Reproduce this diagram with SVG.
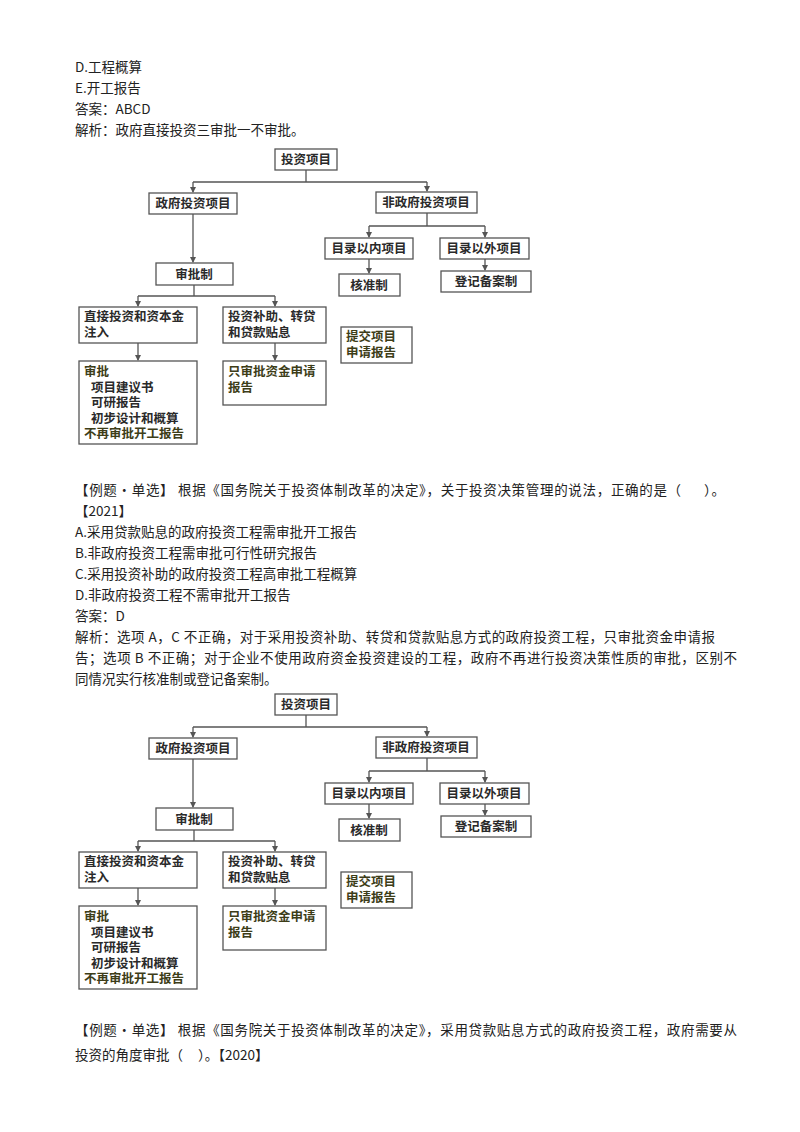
<svg xmlns="http://www.w3.org/2000/svg" width="800" height="1132" viewBox="0 0 800 1132">
<style>
.t{font-family:"Noto Sans CJK SC","Noto Sans",sans-serif;font-size:13.5px;fill:#222}
.b{fill:#fff;stroke:#555;stroke-width:1.3}
.n{font-family:"Noto Sans CJK SC",sans-serif;font-size:12.5px;font-weight:bold;fill:#2a2a2a}
.o{font-family:"Noto Sans CJK SC",sans-serif;font-size:12.5px;font-weight:bold;fill:#3d3d18}
.c{fill:none;stroke:#555;stroke-width:1.3}
</style>
<defs><marker id="a" markerWidth="6" markerHeight="6" refX="5" refY="3" orient="auto" markerUnits="userSpaceOnUse"><path d="M0,0L6,3L0,6z" fill="#555"/></marker></defs>
<rect width="800" height="1132" fill="#fff"/>
<g id="text1">
<text class="t" x="75" y="72">D.工程概算</text>
<text class="t" x="75" y="93">E.开工报告</text>
<text class="t" x="75" y="114">答案：ABCD</text>
<text class="t" x="75" y="135">解析：政府直接投资三审批一不审批。</text>
</g>
<g id="text2">
<text class="t" x="75" y="495" textLength="650">【例题·单选】 根据《国务院关于投资体制改革的决定》，关于投资决策管理的说法，正确的是（&#160;&#160;&#160;&#160;&#160;&#160;）。</text>
<text class="t" x="75" y="516">【2021】</text>
<text class="t" x="75" y="537">A.采用贷款贴息的政府投资工程需审批开工报告</text>
<text class="t" x="75" y="558">B.非政府投资工程需审批可行性研究报告</text>
<text class="t" x="75" y="579">C.采用投资补助的政府投资工程高审批工程概算</text>
<text class="t" x="75" y="600">D.非政府投资工程不需审批开工报告</text>
<text class="t" x="75" y="621">答案：D</text>
<text class="t" x="75" y="642" textLength="640">解析：选项 A，C 不正确，对于采用投资补助、转贷和贷款贴息方式的政府投资工程，只审批资金申请报</text>
<text class="t" x="75" y="663" textLength="662">告；选项 B 不正确；对于企业不使用政府资金投资建设的工程，政府不再进行投资决策性质的审批，区别不</text>
<text class="t" x="75" y="684">同情况实行核准制或登记备案制。</text>
</g>
<g id="text3">
<text class="t" x="75" y="1035" textLength="662">【例题·单选】 根据《国务院关于投资体制改革的决定》，采用贷款贴息方式的政府投资工程，政府需要从</text>
<text class="t" x="75" y="1060">投资的角度审批（&#160;&#160;&#160;&#160;&#160;）。【2020】</text>
</g>
<g id="diagram1">
<g id="connectors1">
<path class="c" d="M306,170V182M193,182H427"/>
<path class="c" d="M193,182V192" marker-end="url(#a)"/><path class="c" d="M427,182V191" marker-end="url(#a)"/>
<path class="c" d="M193,214V262" marker-end="url(#a)"/>
<path class="c" d="M194,285V296M138,296H275"/>
<path class="c" d="M138,296V306" marker-end="url(#a)"/><path class="c" d="M275,296V306" marker-end="url(#a)"/>
<path class="c" d="M138,343V360" marker-end="url(#a)"/><path class="c" d="M275,343V360" marker-end="url(#a)"/>
<path class="c" d="M427,213V226M369,226H485"/>
<path class="c" d="M369,226V237" marker-end="url(#a)"/><path class="c" d="M485,226V237" marker-end="url(#a)"/>
<path class="c" d="M369,259V273" marker-end="url(#a)"/><path class="c" d="M485,259V270" marker-end="url(#a)"/>
</g>
<g id="n1"><rect class="b" x="275" y="149" width="62" height="21"/><text class="n" x="306" y="164" text-anchor="middle">投资项目</text></g>
<g id="n2"><rect class="b" x="149" y="193" width="88" height="21"/><text class="n" x="193" y="208" text-anchor="middle">政府投资项目</text></g>
<g id="n3"><rect class="b" x="376" y="192" width="101" height="21"/><text class="n" x="426" y="207" text-anchor="middle">非政府投资项目</text></g>
<g id="n4"><rect class="b" x="156" y="263" width="77" height="22"/><text class="n" x="194" y="279" text-anchor="middle">审批制</text></g>
<g id="n5"><rect class="b" x="79" y="307" width="118" height="36"/><text class="n" x="84" y="321">直接投资和资本金</text><text class="n" x="84" y="337">注入</text></g>
<g id="n6"><rect class="b" x="223" y="307" width="103" height="36"/><text class="n" x="228" y="321">投资补助、转贷</text><text class="n" x="228" y="337">和贷款贴息</text></g>
<g id="n7"><rect class="b" x="79" y="361" width="118" height="83"/><text class="o" x="84" y="376">审批</text><text class="n" x="91" y="391.5">项目建议书</text><text class="n" x="91" y="407">可研报告</text><text class="n" x="91" y="422.5">初步设计和概算</text><text class="o" x="84" y="438">不再审批开工报告</text></g>
<g id="n8"><rect class="b" x="223" y="361" width="103" height="44"/><text class="o" x="228" y="376">只审批资金申请</text><text class="o" x="228" y="392">报告</text></g>
<g id="n9"><rect class="b" x="325" y="238" width="88" height="21"/><text class="n" x="369" y="253" text-anchor="middle">目录以内项目</text></g>
<g id="n10"><rect class="b" x="440" y="238" width="89" height="21"/><text class="n" x="484" y="253" text-anchor="middle">目录以外项目</text></g>
<g id="n11"><rect class="b" x="339" y="274" width="61" height="22"/><text class="n" x="369" y="290" text-anchor="middle">核准制</text></g>
<g id="n12"><rect class="b" x="441" y="271" width="90" height="21"/><text class="n" x="486" y="286" text-anchor="middle">登记备案制</text></g>
<g id="n13"><rect class="b" x="341" y="327" width="71" height="36"/><text class="o" x="346" y="341">提交项目</text><text class="o" x="346" y="357">申请报告</text></g>
</g>
<g id="diagram2" transform="translate(0,545)">
<g id="connectors2">
<path class="c" d="M306,170V182M193,182H427"/>
<path class="c" d="M193,182V192" marker-end="url(#a)"/><path class="c" d="M427,182V191" marker-end="url(#a)"/>
<path class="c" d="M193,214V262" marker-end="url(#a)"/>
<path class="c" d="M194,285V296M138,296H275"/>
<path class="c" d="M138,296V306" marker-end="url(#a)"/><path class="c" d="M275,296V306" marker-end="url(#a)"/>
<path class="c" d="M138,343V360" marker-end="url(#a)"/><path class="c" d="M275,343V360" marker-end="url(#a)"/>
<path class="c" d="M427,213V226M369,226H485"/>
<path class="c" d="M369,226V237" marker-end="url(#a)"/><path class="c" d="M485,226V237" marker-end="url(#a)"/>
<path class="c" d="M369,259V273" marker-end="url(#a)"/><path class="c" d="M485,259V270" marker-end="url(#a)"/>
</g>
<g id="m1"><rect class="b" x="275" y="149" width="62" height="21"/><text class="n" x="306" y="164" text-anchor="middle">投资项目</text></g>
<g id="m2"><rect class="b" x="149" y="193" width="88" height="21"/><text class="n" x="193" y="208" text-anchor="middle">政府投资项目</text></g>
<g id="m3"><rect class="b" x="376" y="192" width="101" height="21"/><text class="n" x="426" y="207" text-anchor="middle">非政府投资项目</text></g>
<g id="m4"><rect class="b" x="156" y="263" width="77" height="22"/><text class="n" x="194" y="279" text-anchor="middle">审批制</text></g>
<g id="m5"><rect class="b" x="79" y="307" width="118" height="36"/><text class="n" x="84" y="321">直接投资和资本金</text><text class="n" x="84" y="337">注入</text></g>
<g id="m6"><rect class="b" x="223" y="307" width="103" height="36"/><text class="n" x="228" y="321">投资补助、转贷</text><text class="n" x="228" y="337">和贷款贴息</text></g>
<g id="m7"><rect class="b" x="79" y="361" width="118" height="83"/><text class="o" x="84" y="376">审批</text><text class="n" x="91" y="391.5">项目建议书</text><text class="n" x="91" y="407">可研报告</text><text class="n" x="91" y="422.5">初步设计和概算</text><text class="o" x="84" y="438">不再审批开工报告</text></g>
<g id="m8"><rect class="b" x="223" y="361" width="103" height="44"/><text class="o" x="228" y="376">只审批资金申请</text><text class="o" x="228" y="392">报告</text></g>
<g id="m9"><rect class="b" x="325" y="238" width="88" height="21"/><text class="n" x="369" y="253" text-anchor="middle">目录以内项目</text></g>
<g id="m10"><rect class="b" x="440" y="238" width="89" height="21"/><text class="n" x="484" y="253" text-anchor="middle">目录以外项目</text></g>
<g id="m11"><rect class="b" x="339" y="274" width="61" height="22"/><text class="n" x="369" y="290" text-anchor="middle">核准制</text></g>
<g id="m12"><rect class="b" x="441" y="271" width="90" height="21"/><text class="n" x="486" y="286" text-anchor="middle">登记备案制</text></g>
<g id="m13"><rect class="b" x="341" y="327" width="71" height="36"/><text class="o" x="346" y="341">提交项目</text><text class="o" x="346" y="357">申请报告</text></g>
</g>
</svg>
